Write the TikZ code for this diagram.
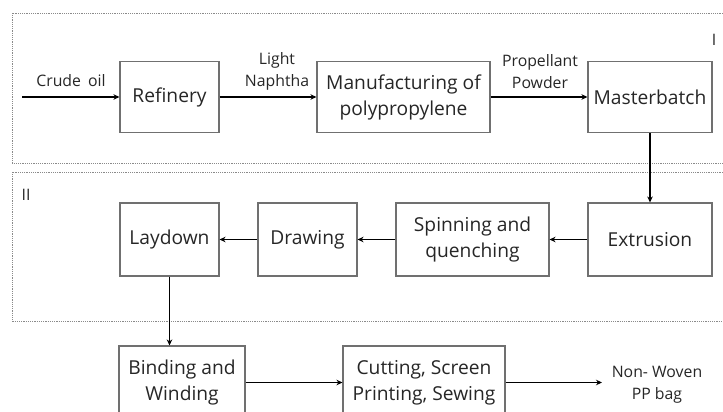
\documentclass[tikz,border=0pt]{standalone}
\usepackage{fontspec}
\setmainfont{Open Sans}
\usetikzlibrary{arrows.meta}
\definecolor{boxline}{HTML}{707070}
\definecolor{txt}{HTML}{262626}
\definecolor{dashc}{HTML}{8A8A8A}
\tikzset{
  pbox/.style={draw=boxline, line width=1.1pt, text=txt, align=center, inner sep=0pt,
    font=\fontsize{19.2}{26}\selectfont},
  lbl/.style={text=txt, align=center, inner sep=0pt, font=\fontsize{15.8}{22}\selectfont},
  flow/.style={line width=1.6pt, -{Stealth[length=6pt,width=5.5pt]}},
  region/.style={draw=dashc, line width=0.8pt, dash pattern=on 1.2pt off 1pt}
}
\begin{document}
\begin{tikzpicture}[x=1pt,y=-1pt]
\useasboundingbox (0,0) rectangle (723,412);
% dashed regions
\draw[region] (725,13) -- (12,13) -- (12,163) -- (725,163);
\draw[region] (725,172) -- (12,172) -- (12,321) -- (725,321);
\node[lbl, anchor=center] (rI) at (714,40) {I};
\node[lbl, anchor=center] (rII) at (26,195) {II};
% row 1
\node[pbox, minimum width=99pt, minimum height=71pt] (ref) at (169.5,97) {Refinery};
\node[pbox, minimum width=173pt, minimum height=71pt] (man) at (403.5,97) {Manufacturing of\\polypropylene};
\node[pbox, minimum width=124pt, minimum height=71pt] (mas) at (650,97) {Masterbatch};
\coordinate (start) at (22,97);
\draw[flow] (start) -- (ref.west);
\draw[flow] (ref) -- (man);
\draw[flow] (man) -- (mas);
\node[lbl] (crude) at (71,81) {Crude\hspace{0.45em}oil};
\node[lbl] (naph) at (277,71) {Light\\Naphtha};
\node[lbl] (prop) at (540,72) {Propellant\\Powder};
% row 2
\node[pbox, minimum width=99pt, minimum height=73pt] (lay) at (169.5,239.5) {Laydown};
\node[pbox, minimum width=99pt, minimum height=73pt] (dra) at (307.5,239.5) {Drawing};
\node[pbox, minimum width=153pt, minimum height=73pt] (spi) at (472.5,239.5) {Spinning and\\quenching};
\node[pbox, minimum width=124pt, minimum height=73pt] (ext) at (650,239.5) {Extrusion};
\draw[flow] (mas) -- (ext);
\draw[flow] (ext) -- (spi);
\draw[flow] (spi) -- (dra);
\draw[flow] (dra) -- (lay);
% row 3
\node[pbox, minimum width=126pt, minimum height=73pt] (bin) at (182,382.5) {Binding and\\Winding};
\node[pbox, minimum width=162pt, minimum height=73pt] (cut) at (424,382.5) {Cutting, Screen\\Printing, Sewing};
\node[lbl] (bag) at (657,385) {Non- Woven\\PP bag};
\coordinate (bagin) at (602,382.5);
\draw[flow] (lay.south) -- (lay.south |- bin.north);
\draw[flow] (bin) -- (cut);
\draw[flow] (cut.east) -- (bagin);
\end{tikzpicture}
\end{document}
